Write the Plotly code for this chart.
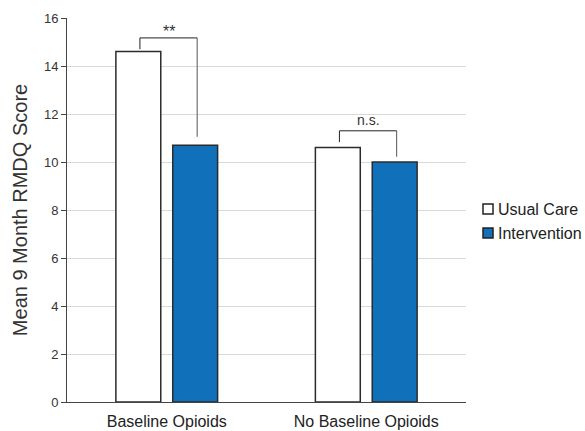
import plotly.graph_objects as go

categories = ["Baseline Opioids", "No Baseline Opioids"]
usual_care = [14.6, 10.6]
intervention = [10.7, 10.0]
y_ticks = [0, 2, 4, 6, 8, 10, 12, 14, 16]
series_names = ["Usual Care", "Intervention"]
series_colors = ["white", "#1170BA"]

# significance brackets: (category index, label, top, left end, right end)
brackets = [
    (0, "**", 15.17, 14.7, 11.05),
    (1, "n.s.", 11.3, 10.83, 10.22),
]

FONT = "Liberation Sans, Arial, sans-serif"
off = 0.1425
bw = 0.225

fig = go.Figure()
for name, vals, col, center in [
    (series_names[0], usual_care, series_colors[0], -off),
    (series_names[1], intervention, series_colors[1], off),
]:
    fig.add_trace(go.Bar(
        x=categories, y=vals, name=name,
        width=bw, offset=center - bw / 2,
        marker=dict(color=col, line=dict(color="#2b2b2b", width=1.5)),
        showlegend=False,
    ))

for idx, label, top, lend, rend in brackets:
    xl, xr = idx - off + 0.008, idx + off + 0.01
    fig.add_shape(type="line", xref="x", yref="y", x0=xl, x1=xl, y0=lend, y1=top,
                  line=dict(color="#222222", width=1))
    fig.add_shape(type="line", xref="x", yref="y", x0=xl, x1=xr, y0=top, y1=top,
                  line=dict(color="#222222", width=1))
    fig.add_shape(type="line", xref="x", yref="y", x0=xr, x1=xr, y0=top, y1=rend,
                  line=dict(color="#555555", width=1))
    fig.add_annotation(x=idx + 0.01, y=top, xref="x", yref="y", text=label, showarrow=False,
                       yanchor="bottom", yshift=1 if label != "**" else -4,
                       font=dict(size=16 if label == "**" else 14, color="#333333", family=FONT))

# custom legend (small squares close to text)
leg_y = [0.5026, 0.4401]
for name, col, yc in zip(series_names, series_colors, leg_y):
    fig.add_shape(type="rect", xref="paper", yref="paper",
                  x0=1.0426, x1=1.0677, y0=yc - 0.013, y1=yc + 0.013,
                  fillcolor=col, line=dict(color="#222222", width=1.5))
    fig.add_annotation(xref="paper", yref="paper", x=1.0752, y=yc, text=name,
                       showarrow=False, xanchor="left", yanchor="middle",
                       font=dict(size=16, color="#222222", family=FONT))

fig.update_layout(
    width=585, height=431,
    margin=dict(l=67, r=119, t=18, b=29, autoexpand=False),
    paper_bgcolor="white", plot_bgcolor="white",
    barmode="overlay",
    font=dict(family=FONT, color="#333333"),
    showlegend=False,
)
fig.update_xaxes(
    type="category", range=[-0.5, 1.5],
    showline=True, linecolor="#444444", linewidth=1,
    ticks="", tickfont=dict(size=16, color="#222222"), ticklabelstandoff=5,
    showgrid=False, automargin=False,
)
fig.update_yaxes(
    range=[0, 16], tickvals=y_ticks,
    showline=True, linecolor="#444444", linewidth=1,
    ticks="outside", ticklen=5, tickcolor="#444444",
    tickfont=dict(size=13, color="#333333"),
    showgrid=True, gridcolor="#d9d9d9", gridwidth=1,
    zeroline=False, automargin=False,
    title=dict(text="Mean 9 Month RMDQ Score", font=dict(size=20, color="#333333"), standoff=10),
)

fig.write_html(
    "out.html",
    config={"displayModeBar": False},
    post_script="document.body.style.margin='0';document.body.style.overflow='hidden';",
)
